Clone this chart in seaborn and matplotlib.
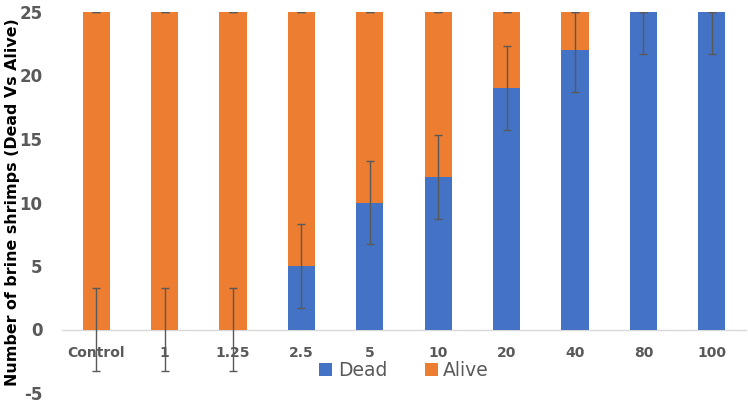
import matplotlib
matplotlib.use("Agg")
import matplotlib.pyplot as plt
import numpy as np
import seaborn as sns

# --------------------------------------
# Data
# --------------------------------------
concentrations = ["Control", "1", "1.25", "2.5", "5", "10", "20", "40", "80", "100"]
dead = [0, 0, 0, 5, 10, 12, 19, 22, 25, 25]
alive = [25, 25, 25, 20, 15, 13, 6, 3, 0, 0]
dead_err = [3.3, 3.3, 3.3, 3.3, 3.3, 3.3, 3.3, 3.3, 3.3, 3.3]

BLUE = "#4472C4"
ORANGE = "#ED7D31"
GRAY = "#595959"

sns.set_style("white")
plt.rcParams["axes.unicode_minus"] = False

fig = plt.figure(figsize=(7.48, 4.07), dpi=100)
ax = fig.add_axes([62 / 748, 14 / 407, 684 / 748, 381 / 407])

total = [d + a for d, a in zip(dead, alive)]

# stacked look: full height in orange, dead part drawn over it in blue
sns.barplot(x=concentrations, y=total, color=ORANGE, width=0.4, saturation=1,
            ax=ax, label="Alive", zorder=2, linewidth=0)
sns.barplot(x=concentrations, y=dead, color=BLUE, width=0.4, saturation=1,
            ax=ax, label="Dead", zorder=3, linewidth=0)

xpos = np.arange(len(concentrations))
ax.errorbar(xpos, dead, yerr=dead_err, fmt="none", ecolor=GRAY, elinewidth=1,
            capsize=3, capthick=1, zorder=5)
ax.errorbar(xpos, total, yerr=[0] * len(total), fmt="none", ecolor=GRAY,
            elinewidth=1, capsize=3, capthick=1, zorder=5)

ax.set_ylim(-5, 25)
ax.set_xlim(-0.5, len(concentrations) - 0.5)
ax.set_yticks(range(-5, 26, 5))
ax.set_xticks(xpos)
ax.set_xticklabels(concentrations)
ax.tick_params(axis="y", length=0, labelsize=12, labelcolor=GRAY, pad=14)
ax.tick_params(axis="x", length=0, labelsize=10, labelcolor=GRAY, pad=12)

for s in ["top", "right", "left"]:
    ax.spines[s].set_visible(False)
ax.spines["bottom"].set_position(("data", 0))
ax.spines["bottom"].set_color("#D9D9D9")
ax.spines["bottom"].set_linewidth(1)
ax.spines["bottom"].set_zorder(1)

ax.set_xlabel("")
ax.set_ylabel("Number of brine shrimps (Dead Vs Alive)", fontsize=11.4,
              fontweight="bold", color="black")
ax.yaxis.set_label_coords(-0.062, 0.5)

handles, labels = ax.get_legend_handles_labels()
order = [labels.index("Dead"), labels.index("Alive")]
leg = ax.legend([handles[i] for i in order], [labels[i] for i in order],
                loc="center", bbox_to_anchor=(0.5, 0.06), ncol=2, frameon=False,
                fontsize=13.5, handlelength=0.7, handleheight=0.7,
                handletextpad=0.3, columnspacing=2.0)
for t in leg.get_texts():
    t.set_color(GRAY)

fig.canvas.draw()
for tick in ax.xaxis.get_major_ticks() + ax.yaxis.get_major_ticks():
    tick.label1.set_fontweight("bold")

fig.savefig("out.png", dpi=100)
